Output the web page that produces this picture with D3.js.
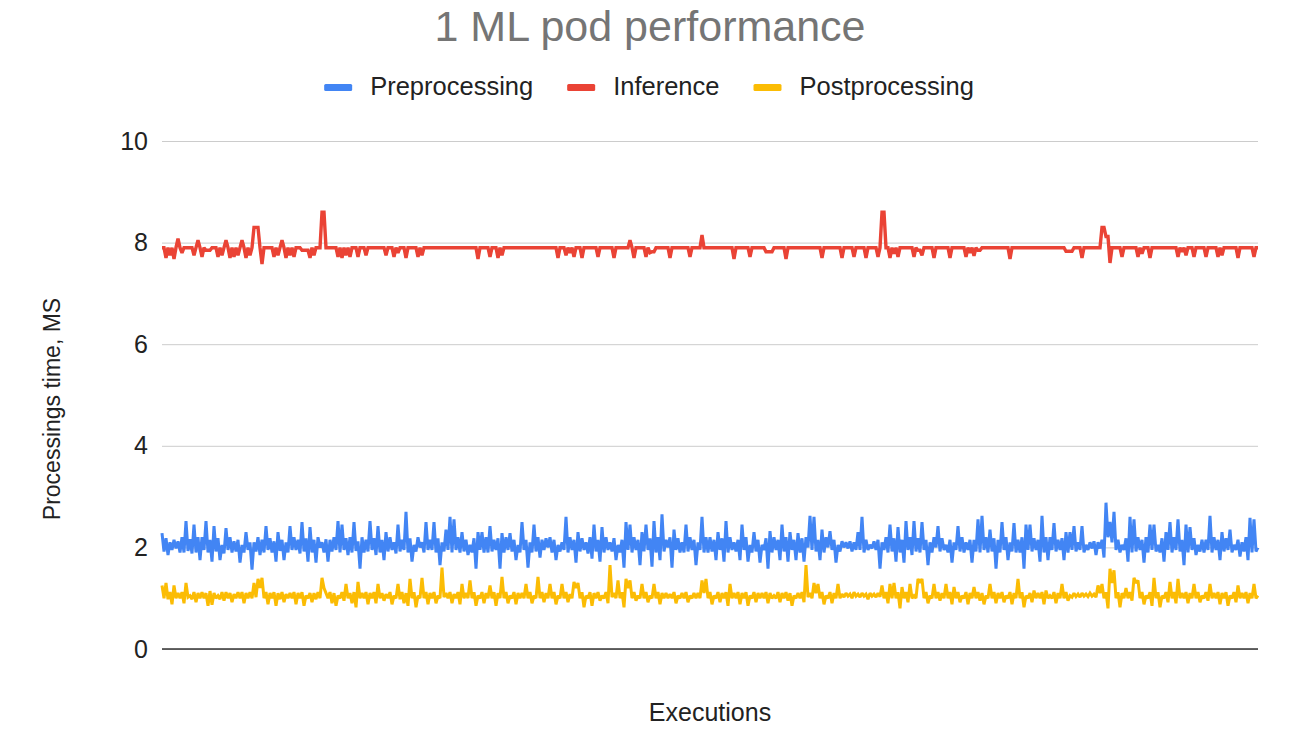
<!DOCTYPE html>
<html><head><meta charset="utf-8">
<script src="https://cdn.jsdelivr.net/npm/d3@7"></script>
<style>body{margin:0;background:#fff}svg{display:block;font-family:"Liberation Sans",Arial,Helvetica,sans-serif}</style>
</head><body><svg id="c" width="1300" height="731"></svg>
<script>
const chartTitle = "1 ML pod performance";
const xTitle = "Executions";
const yTitle = "Processings time, MS";
const seriesNames = ["Preprocessing", "Inference", "Postprocessing"];
const seriesColors = ["#4285F4", "#EA4335", "#FBBC04"];
const yTicks = [0, 2, 4, 6, 8, 10];

const preprocessing = [
2.28,1.92,2.18,1.85,2.1,1.95,2.15,1.98,2.12,1.9,2.2,1.9,2.52,1.93,2.16,1.88,2.45,1.9,2.2,1.75,
2.2,1.95,2.52,1.9,2.15,1.72,2.42,1.92,2.18,1.75,2.05,1.88,2.38,1.95,2.2,1.9,2.12,1.92,2.15,1.7,
2.05,1.9,2.3,1.95,2.1,1.56,2.1,1.92,2.2,1.85,2.15,1.9,2.42,1.95,2.18,1.9,2.12,1.72,2.3,1.93,
2.15,1.75,2.1,1.9,2.42,1.95,2.2,1.95,2.15,1.88,2.5,1.92,2.18,1.72,2.4,1.9,2.15,1.7,2.2,2.0,
2.1,1.9,2.16,1.72,2.15,1.92,2.2,1.95,2.52,1.9,2.45,1.95,2.18,1.85,2.2,1.9,2.5,1.93,2.12,1.58,
2.2,1.9,2.15,1.92,2.52,1.95,2.18,1.85,2.42,1.9,2.15,1.75,2.3,1.92,2.2,1.95,2.1,1.88,2.45,1.92,
2.15,1.95,2.7,1.9,2.18,1.72,2.05,1.92,2.2,2.0,2.1,1.9,2.5,1.95,2.15,1.95,2.5,1.9,2.18,1.65,
2.1,1.92,2.35,1.95,2.6,1.9,2.55,1.95,2.2,1.9,2.3,1.92,2.15,1.85,2.05,1.9,2.18,1.58,2.3,1.95,
2.3,1.9,2.2,1.9,2.42,1.92,2.15,1.95,2.18,1.58,2.28,1.9,2.2,1.95,2.28,1.92,2.15,1.75,2.05,1.9,
2.5,1.95,2.15,1.6,2.1,1.9,2.45,1.92,2.2,1.8,2.15,1.95,2.18,2.0,2.2,1.9,2.15,1.75,2.05,1.92,
2.1,1.95,2.6,1.9,2.2,1.95,2.15,1.7,2.3,1.92,2.18,1.95,2.1,1.88,2.2,1.78,2.45,1.92,2.15,1.72,
2.4,1.9,2.2,1.95,2.1,1.92,2.18,1.75,2.05,1.9,2.15,1.6,2.5,1.95,2.45,1.9,2.2,1.95,2.15,1.65,
2.3,1.92,2.45,1.95,2.18,1.62,2.52,1.9,2.2,1.75,2.65,1.92,2.15,2.0,2.2,1.6,2.35,1.95,2.18,1.9,
2.1,1.9,2.45,1.92,2.2,1.95,2.15,1.65,2.1,1.95,2.6,1.9,2.2,1.9,2.2,1.92,2.15,1.75,2.3,1.95,
2.18,1.72,2.52,1.9,2.2,1.95,2.1,1.92,2.15,1.75,2.45,1.95,2.2,1.72,2.05,1.9,2.3,1.92,2.15,1.7,
2.05,1.95,2.18,1.58,2.32,1.9,2.2,1.95,2.15,1.75,2.45,1.92,2.2,1.72,2.3,1.95,2.15,1.75,2.28,1.9,
2.18,1.72,2.2,2.0,2.62,1.95,2.6,1.92,2.15,1.75,2.35,1.9,2.2,2.0,2.32,1.95,2.15,1.7,2.05,1.92,
2.12,2.0,2.1,1.98,2.12,1.92,2.1,1.95,2.3,1.95,2.6,1.9,2.15,1.95,2.05,1.98,2.12,1.95,2.15,1.58,
2.1,1.95,2.2,1.9,2.45,1.92,2.18,1.72,2.4,1.9,2.15,1.7,2.52,1.95,2.2,1.85,2.52,1.92,2.18,1.9,
2.5,1.95,2.15,1.65,2.1,1.9,2.2,2.0,2.42,1.92,2.18,1.95,2.05,1.9,2.15,1.7,2.1,1.95,2.42,1.92,
2.2,1.9,2.1,1.95,2.15,1.7,2.15,1.92,2.55,1.9,2.62,1.95,2.2,1.9,2.35,1.92,2.18,1.58,2.15,1.9,
2.5,1.95,2.2,1.75,2.1,1.92,2.48,1.9,2.15,1.9,2.2,1.58,2.45,1.95,2.45,1.92,2.18,1.95,2.15,1.72,
2.62,1.9,2.2,1.75,2.2,1.95,2.48,1.92,2.15,1.95,2.18,1.75,2.3,1.9,2.3,1.95,2.42,1.92,2.1,1.95,
2.42,1.9,2.05,1.95,2.1,1.98,2.12,1.85,2.1,1.98,2.15,1.8,2.88,2.2,2.5,2.1,2.7,1.95,2.15,1.9,
2.05,1.95,2.18,1.72,2.6,1.9,2.55,1.92,2.2,1.95,2.15,1.7,2.2,1.9,2.45,1.95,2.45,1.92,2.05,1.9,
2.18,1.72,2.3,1.95,2.5,1.9,2.2,1.95,2.55,1.92,2.15,1.65,2.45,1.9,2.4,1.95,2.18,1.85,2.05,1.92,
2.15,1.9,2.15,1.95,2.62,1.9,2.2,1.95,2.15,1.75,2.3,1.92,2.18,1.95,2.35,1.9,2.05,1.95,2.15,1.82,
2.1,1.92,2.2,1.75,2.58,1.9,2.55,1.92,2.0
];

const inference = [
7.9,7.9,7.7,7.9,7.75,7.9,7.68,7.9,8.08,7.9,7.8,7.9,7.9,7.9,7.9,7.9,7.75,7.9,8.05,7.9,
7.72,7.9,7.85,7.85,7.85,7.9,7.9,7.9,7.72,7.9,7.75,7.9,8.05,7.9,7.7,7.9,7.72,7.9,7.75,7.9,
8.05,7.9,7.7,7.9,7.75,7.9,8.3,8.3,8.3,7.9,7.58,7.9,7.9,7.9,7.9,7.9,7.72,7.9,7.75,7.9,
8.05,7.9,7.7,7.9,7.75,7.9,7.72,7.9,7.9,7.9,7.85,7.85,7.85,7.85,7.7,7.9,7.75,7.9,7.9,7.9,
8.6,8.6,7.9,7.9,7.9,7.9,7.9,7.9,7.72,7.9,7.7,7.9,7.75,7.9,7.72,7.9,7.9,7.9,7.72,7.9,
7.9,7.9,7.75,7.9,7.9,7.9,7.9,7.9,7.9,7.9,7.9,7.9,7.75,7.9,7.9,7.9,7.72,7.9,7.8,7.9,
7.9,7.9,7.7,7.9,7.9,7.9,7.9,7.9,7.72,7.9,7.75,7.9,7.9,7.9,7.9,7.9,7.9,7.9,7.9,7.9,
7.9,7.9,7.9,7.9,7.9,7.9,7.9,7.9,7.9,7.9,7.9,7.9,7.9,7.9,7.9,7.9,7.9,7.9,7.68,7.9,
7.9,7.9,7.9,7.9,7.72,7.9,7.9,7.9,7.7,7.9,7.75,7.9,7.9,7.9,7.9,7.9,7.9,7.9,7.9,7.9,
7.9,7.9,7.9,7.9,7.9,7.9,7.9,7.9,7.9,7.9,7.9,7.9,7.9,7.9,7.9,7.9,7.9,7.9,7.7,7.9,
7.9,7.9,7.75,7.9,7.8,7.9,7.72,7.9,7.9,7.9,7.7,7.9,7.9,7.9,7.9,7.9,7.9,7.9,7.72,7.9,
7.9,7.9,7.9,7.9,7.9,7.9,7.7,7.9,7.9,7.9,7.9,7.9,7.9,7.9,8.05,7.9,7.7,7.9,7.9,7.9,
7.9,7.9,7.72,7.9,7.8,7.82,7.82,7.9,7.9,7.9,7.9,7.9,7.9,7.9,7.7,7.9,7.9,7.9,7.9,7.9,
7.9,7.9,7.9,7.9,7.72,7.9,7.9,7.9,7.9,7.9,8.15,7.9,7.9,7.9,7.9,7.9,7.9,7.9,7.9,7.9,
7.9,7.9,7.9,7.9,7.9,7.9,7.68,7.9,7.9,7.9,7.9,7.9,7.9,7.9,7.72,7.9,7.9,7.9,7.9,7.9,
7.9,7.9,7.82,7.82,7.82,7.82,7.9,7.9,7.9,7.9,7.9,7.9,7.68,7.9,7.9,7.9,7.9,7.9,7.9,7.9,
7.9,7.9,7.9,7.9,7.9,7.9,7.9,7.9,7.9,7.9,7.7,7.9,7.9,7.9,7.9,7.9,7.9,7.9,7.9,7.9,
7.7,7.9,7.9,7.9,7.9,7.9,7.72,7.9,7.9,7.9,7.9,7.9,7.7,7.9,7.9,7.9,7.9,7.9,7.72,7.9,
8.6,8.6,7.9,7.9,7.7,7.9,7.78,7.9,7.72,7.9,7.9,7.9,7.9,7.9,7.9,7.9,7.72,7.9,7.85,7.85,
7.75,7.9,7.9,7.9,7.9,7.9,7.7,7.9,7.9,7.9,7.9,7.9,7.9,7.9,7.7,7.9,7.9,7.9,7.9,7.9,
7.9,7.9,7.72,7.9,7.8,7.9,7.74,7.9,7.85,7.85,7.9,7.9,7.9,7.9,7.9,7.9,7.9,7.9,7.9,7.9,
7.9,7.9,7.9,7.9,7.68,7.9,7.9,7.9,7.9,7.9,7.9,7.9,7.9,7.9,7.9,7.9,7.9,7.9,7.9,7.9,
7.9,7.9,7.9,7.9,7.9,7.9,7.9,7.9,7.9,7.9,7.9,7.9,7.83,7.83,7.83,7.83,7.9,7.9,7.9,7.9,
7.7,7.9,7.9,7.9,7.9,7.9,7.9,7.9,7.9,7.9,8.3,8.3,8.12,8.12,7.6,7.9,7.9,7.9,7.9,7.9,
7.72,7.9,7.9,7.9,7.9,7.9,7.9,7.9,7.72,7.9,7.78,7.9,7.9,7.9,7.7,7.9,7.9,7.9,7.9,7.9,
7.9,7.9,7.9,7.9,7.9,7.9,7.9,7.9,7.72,7.9,7.82,7.9,7.75,7.9,7.9,7.9,7.72,7.9,7.9,7.9,
7.9,7.9,7.72,7.9,7.9,7.9,7.9,7.9,7.72,7.9,7.75,7.9,7.9,7.9,7.9,7.9,7.9,7.9,7.7,7.9,
7.9,7.9,7.9,7.9,7.9,7.9,7.72,7.9,7.9
];

const postprocessing = [
1.25,1.0,1.3,0.98,1.12,0.88,1.25,1.0,1.1,1.0,1.12,0.9,1.3,1.02,1.05,0.98,1.12,0.92,1.1,1.0,
1.12,1.0,1.1,0.85,1.14,0.87,1.1,1.0,1.05,0.98,1.12,0.95,1.12,1.0,1.1,0.92,1.08,1.0,1.12,1.0,
1.12,0.9,1.1,1.0,1.12,1.0,1.3,1.02,1.38,1.2,1.4,1.0,1.12,0.88,1.1,1.0,1.12,0.85,1.1,0.98,
1.12,0.92,1.08,1.0,1.1,1.0,1.12,0.88,1.1,1.0,1.12,0.85,1.05,1.0,1.1,0.92,1.1,0.98,1.12,1.0,
1.4,1.2,1.1,1.0,1.12,0.9,1.1,0.85,1.05,1.0,1.12,0.95,1.28,1.0,1.1,0.9,1.12,0.82,1.32,1.0,
1.1,1.0,1.12,0.88,1.1,1.0,1.12,0.9,1.28,1.0,1.1,0.95,1.08,1.0,1.12,0.88,1.05,1.0,1.28,0.98,
1.12,0.9,1.1,0.85,1.38,1.0,1.12,0.82,1.05,1.0,1.4,1.0,1.12,0.88,1.1,1.0,1.12,0.9,1.05,1.0,
1.6,1.02,1.1,1.0,1.12,0.9,1.08,1.0,1.12,0.88,1.28,1.0,1.1,1.0,1.35,1.0,1.12,0.85,1.05,1.0,
1.12,0.9,1.1,1.0,1.25,1.0,1.12,0.85,1.1,1.0,1.42,1.0,1.12,0.9,1.05,1.0,1.12,0.88,1.1,1.0,
1.1,1.0,1.28,1.0,1.12,0.9,1.05,1.0,1.42,1.0,1.12,0.92,1.1,1.0,1.28,1.0,1.12,0.88,1.05,1.0,
1.28,1.0,1.12,0.92,1.08,1.0,1.32,1.2,1.3,1.0,1.12,0.82,1.05,1.0,1.12,0.85,1.1,1.0,1.12,0.95,
1.05,1.0,1.12,0.9,1.65,1.02,1.1,1.0,1.35,1.0,1.12,0.82,1.38,1.2,1.35,1.0,1.12,0.95,1.05,1.0,
1.28,1.0,1.12,0.92,1.05,1.0,1.28,1.0,1.12,0.88,1.1,1.0,1.1,1.0,1.08,1.0,1.12,0.9,1.05,1.0,
1.1,1.0,1.12,0.92,1.05,1.0,1.1,1.0,1.1,1.0,1.35,1.1,1.38,1.0,1.12,0.88,1.05,1.0,1.12,0.92,
1.1,1.0,1.12,0.85,1.28,1.0,1.1,1.0,1.12,0.88,1.1,1.0,1.12,0.85,1.05,1.0,1.12,0.92,1.1,1.0,
1.1,1.0,1.12,0.9,1.1,1.0,1.05,1.0,1.12,0.92,1.1,1.0,1.12,0.95,1.1,0.85,1.05,1.0,1.1,1.0,
1.12,0.92,1.65,1.02,1.1,1.0,1.3,1.1,1.28,1.0,1.12,0.88,1.05,1.0,1.12,0.9,1.1,1.0,1.28,1.0,
1.08,1.02,1.1,1.04,1.08,1.0,1.12,1.04,1.08,1.02,1.1,1.04,1.08,0.98,1.1,1.04,1.08,1.02,1.1,1.03,
1.25,1.0,1.12,0.9,1.28,1.0,1.3,1.0,1.12,0.8,1.22,1.0,1.12,0.92,1.28,1.0,1.05,1.0,1.38,1.3,
1.38,1.0,1.12,0.9,1.05,1.0,1.28,1.0,1.12,0.95,1.1,1.0,1.28,1.0,1.12,0.88,1.22,1.0,1.12,0.92,
1.05,1.0,1.12,0.88,1.1,1.0,1.22,1.0,1.12,0.95,1.1,0.88,1.05,1.0,1.28,1.0,1.12,0.9,1.1,1.0,
1.12,0.92,1.05,1.0,1.12,0.88,1.1,1.0,1.38,1.0,1.12,0.82,1.05,1.0,1.1,0.92,1.15,1.0,1.1,1.0,
1.12,0.88,1.15,1.0,1.05,1.0,1.12,0.9,1.1,1.0,1.28,1.0,1.12,0.95,1.05,1.02,1.1,1.03,1.08,1.02,
1.1,1.04,1.08,1.03,1.1,1.04,1.08,1.02,1.25,1.1,1.28,1.0,1.12,0.8,1.58,1.3,1.55,1.0,1.12,0.82,
1.1,1.0,1.2,1.0,1.12,0.95,1.4,1.3,1.35,1.0,1.12,0.88,1.05,1.0,1.12,0.85,1.4,1.0,1.12,0.82,
1.05,1.0,1.12,0.92,1.32,1.0,1.12,0.9,1.38,1.0,1.1,1.0,1.12,0.9,1.1,1.0,1.28,1.0,1.12,0.92,
1.05,1.0,1.12,0.95,1.28,1.0,1.1,1.0,1.12,0.88,1.1,1.0,1.12,0.85,1.05,1.0,1.12,0.92,1.25,1.0,
1.1,1.0,1.12,0.9,1.1,1.0,1.28,1.0,1.05
];

const executions = d3.range(1, preprocessing.length + 1);
const seriesData = [preprocessing, inference, postprocessing];
const seriesWidths = [3, 3.4, 3];

const plot = {left: 162, right: 1258, top: 141, bottom: 649};
const svg = d3.select("#c");

const x = d3.scaleLinear().domain([1, executions.length]).range([plot.left, plot.right]);
const y = d3.scaleLinear().domain([0, 10]).range([plot.bottom, plot.top]);

// Title
svg.append("text").attr("x", 650).attr("y", 41).attr("text-anchor", "middle")
  .attr("font-size", 43).attr("fill", "#757575").text(chartTitle);

// Legend
const legend = svg.append("g").attr("font-size", 25.5).attr("fill", "#222");
let lx = 0;
seriesNames.forEach((name, i) => {
  const g = legend.append("g");
  g.append("rect").attr("x", lx).attr("y", 84).attr("width", 28).attr("height", 7).attr("rx", 1.5)
    .attr("fill", seriesColors[i]);
  const t = g.append("text").attr("x", lx + 46).attr("y", 95).attr("fill", "#222").text(name);
  const w = t.node().getComputedTextLength();
  lx += 46 + w + 34;
});
const legendWidth = lx - 34;
legend.attr("transform", `translate(${649 - legendWidth / 2},0)`);

// Grid + y axis
const yAxis = d3.axisLeft(y).tickValues(yTicks).tickSize(-(plot.right - plot.left)).tickPadding(14);
const ga = svg.append("g").attr("transform", `translate(${plot.left},0)`).call(yAxis);
ga.select(".domain").remove();
ga.selectAll(".tick line").attr("stroke", "#cccccc").attr("stroke-width", 1);
ga.selectAll(".tick text").attr("font-size", 25).attr("fill", "#222")
  .attr("font-family", '"Liberation Sans",Arial,sans-serif');

// Series lines
seriesData.forEach((s, i) => {
  const line = d3.line().x((d, k) => x(executions[Math.min(k, executions.length - 1)])).y(d => y(d));
  svg.append("path").datum(s).attr("d", line).attr("fill", "none")
    .attr("stroke", seriesColors[i]).attr("stroke-width", seriesWidths[i])
    .attr("stroke-linejoin", "miter").attr("stroke-miterlimit", 2);
});

// Zero baseline
svg.append("line").attr("x1", plot.left).attr("x2", plot.right).attr("y1", y(0)).attr("y2", y(0))
  .attr("stroke", "#333").attr("stroke-width", 1.3);

// Axis titles
svg.append("text").attr("x", 710).attr("y", 721).attr("text-anchor", "middle")
  .attr("font-size", 25).attr("fill", "#222").text(xTitle);
svg.append("text").attr("transform", "translate(60,409) rotate(-90)").attr("text-anchor", "middle")
  .attr("font-size", 23).attr("fill", "#222").text(yTitle);
</script></body></html>
